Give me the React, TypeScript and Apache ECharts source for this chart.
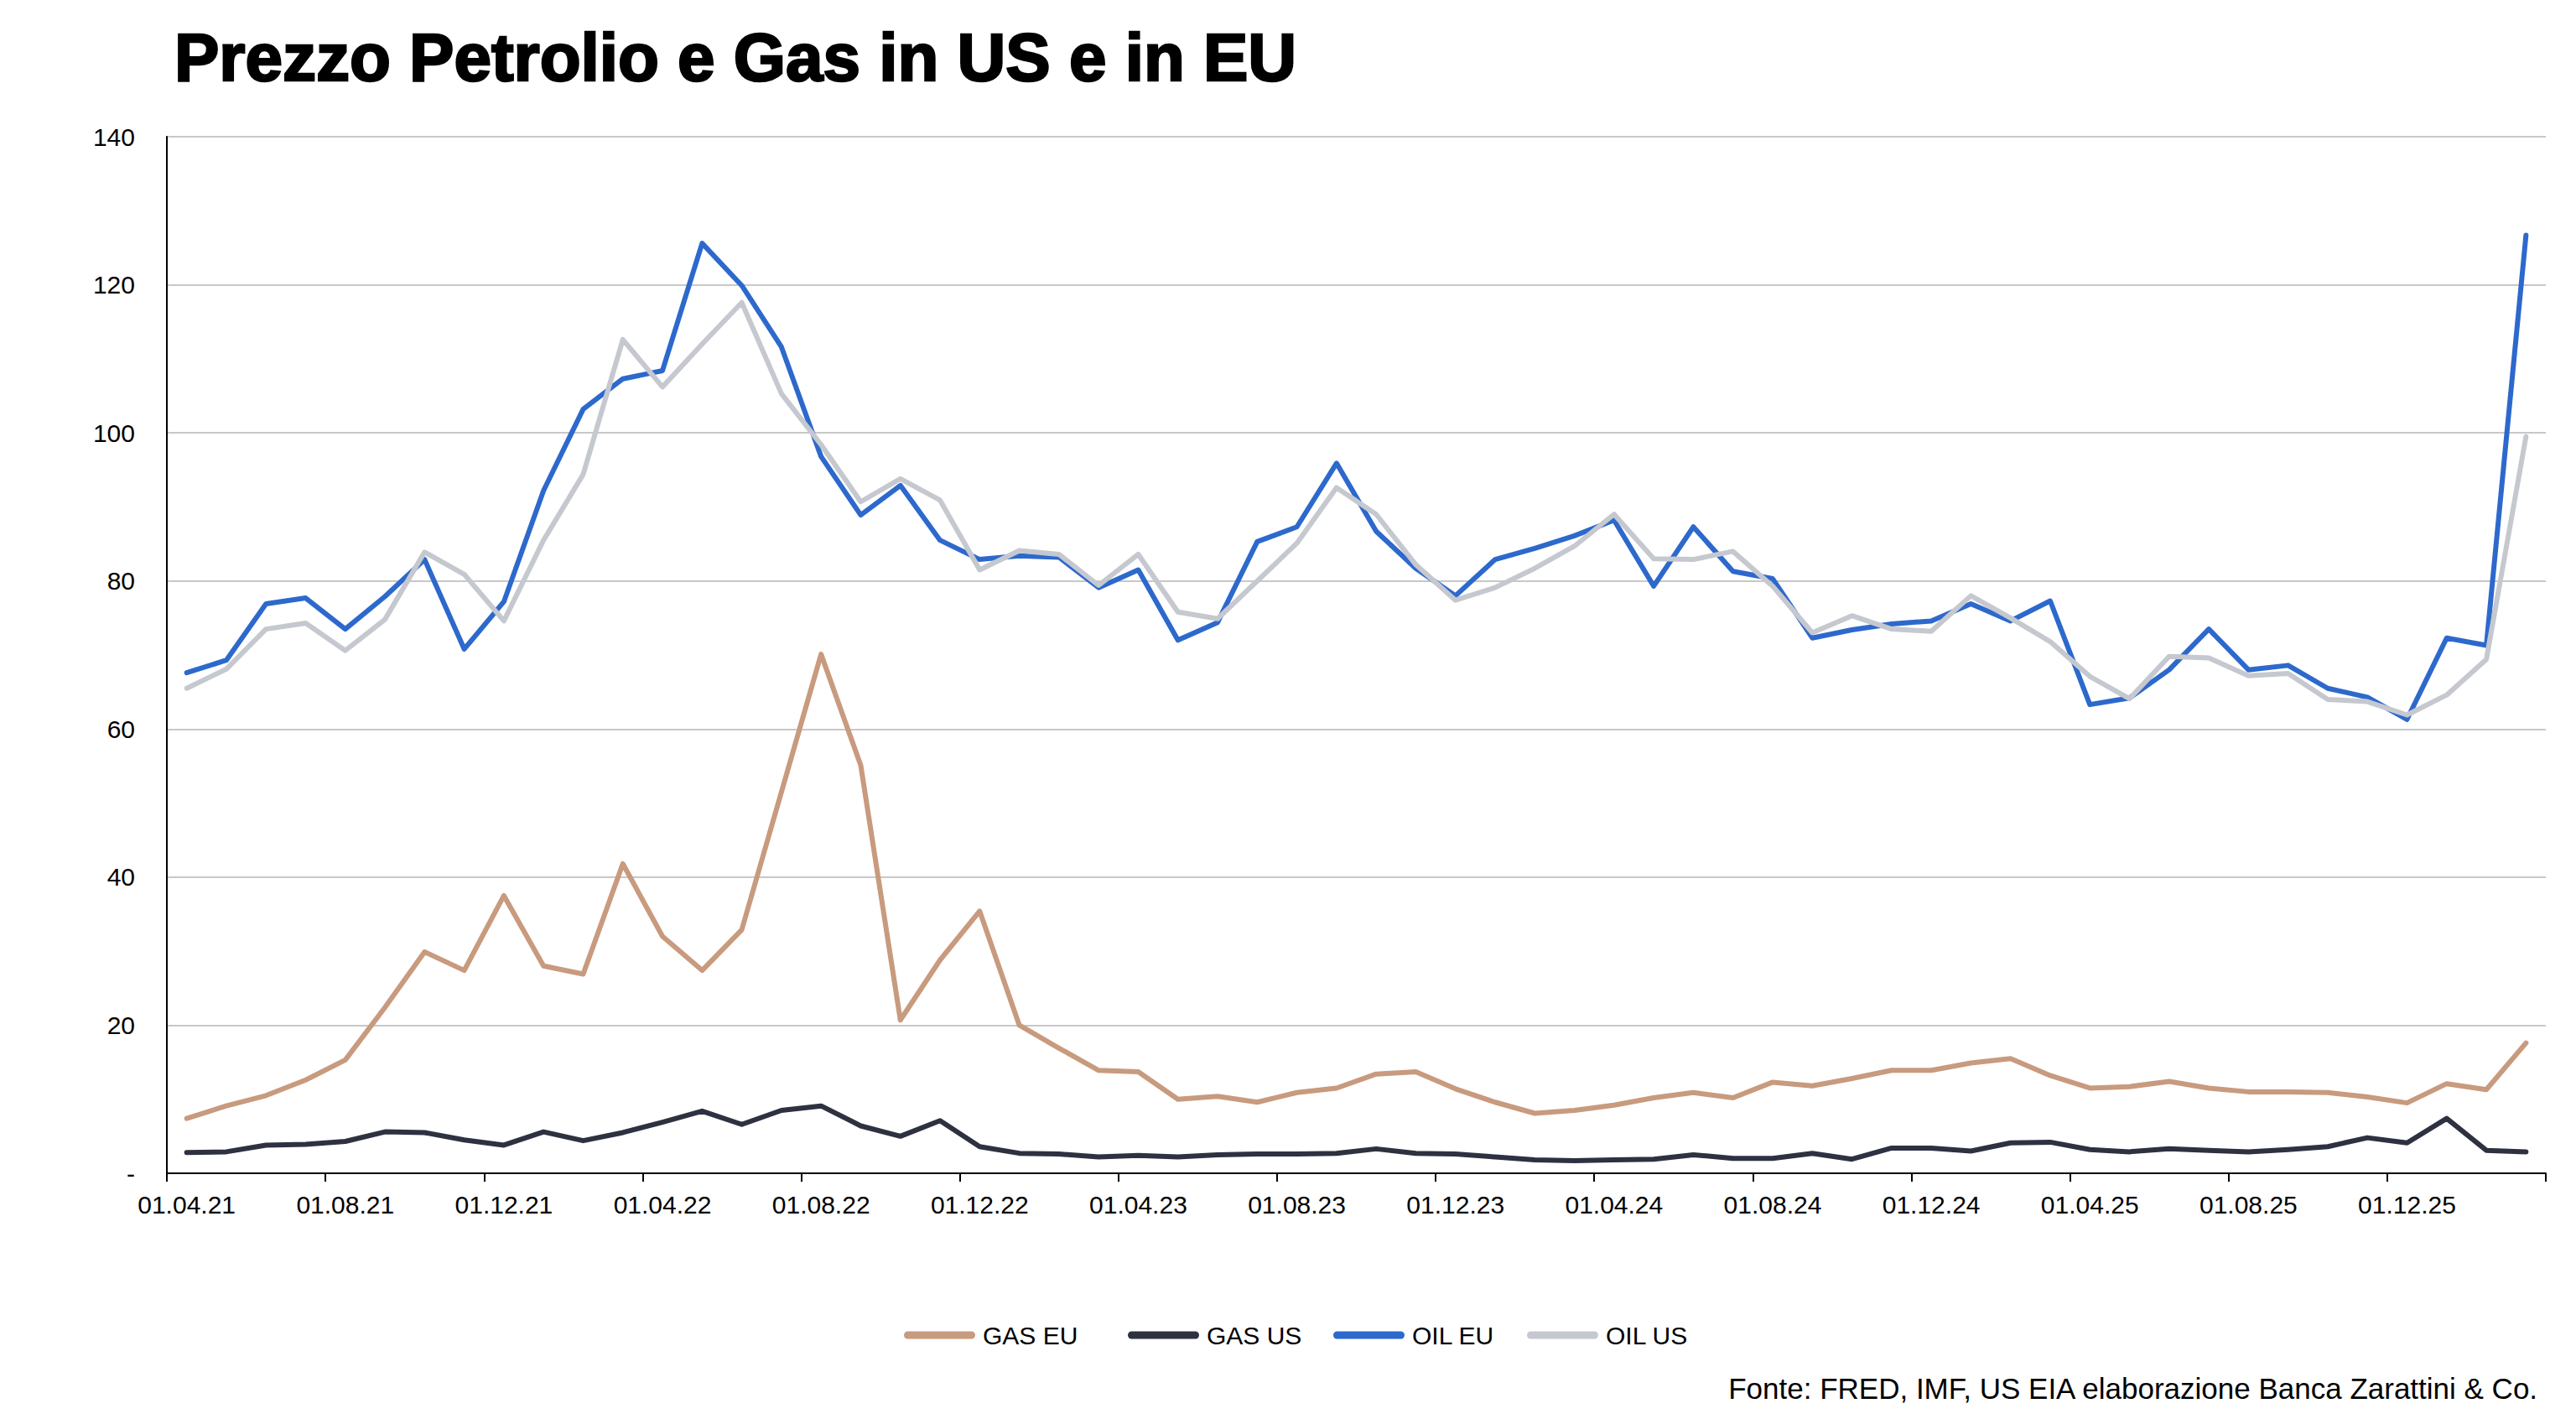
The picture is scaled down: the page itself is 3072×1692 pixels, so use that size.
import React, { useEffect, useRef } from "react";
import * as echarts from "echarts";

const categories = [
  "01.04.21","01.05.21","01.06.21","01.07.21","01.08.21","01.09.21","01.10.21","01.11.21","01.12.21",
  "01.01.22","01.02.22","01.03.22","01.04.22","01.05.22","01.06.22","01.07.22","01.08.22","01.09.22","01.10.22","01.11.22","01.12.22",
  "01.01.23","01.02.23","01.03.23","01.04.23","01.05.23","01.06.23","01.07.23","01.08.23","01.09.23","01.10.23","01.11.23","01.12.23",
  "01.01.24","01.02.24","01.03.24","01.04.24","01.05.24","01.06.24","01.07.24","01.08.24","01.09.24","01.10.24","01.11.24","01.12.24",
  "01.01.25","01.02.25","01.03.25","01.04.25","01.05.25","01.06.25","01.07.25","01.08.25","01.09.25","01.10.25","01.11.25","01.12.25",
  "01.01.26","01.02.26","01.03.26",
];

const gasEU = [
  7.4, 9.1, 10.5, 12.6, 15.3, 22.4, 29.9, 27.4, 37.5, 28.0, 26.9, 41.8, 32.0, 27.4, 32.9,
  51.5, 70.1, 55.1, 20.7, 28.8, 35.4, 20.0, 16.9, 13.9, 13.7, 10.0, 10.4, 9.6, 10.9, 11.5,
  13.4, 13.7, 11.4, 9.6, 8.1, 8.5, 9.2, 10.2, 10.9, 10.2, 12.3, 11.8, 12.8, 13.9, 13.9,
  14.9, 15.5, 13.2, 11.5, 11.7, 12.4, 11.5, 11.0, 11.0, 10.9, 10.3, 9.5, 12.1, 11.3, 17.6,
];

const gasUS = [
  2.8, 2.9, 3.8, 3.9, 4.3, 5.6, 5.5, 4.5, 3.8, 5.6, 4.4, 5.5, 6.9, 8.4, 6.6,
  8.5, 9.1, 6.4, 5.0, 7.1, 3.6, 2.7, 2.6, 2.2, 2.4, 2.2, 2.5, 2.6, 2.6, 2.7,
  3.3, 2.7, 2.6, 2.2, 1.8, 1.7, 1.8, 1.9, 2.5, 2.0, 2.0, 2.7, 1.9, 3.4, 3.4,
  3.0, 4.1, 4.2, 3.2, 2.9, 3.3, 3.1, 2.9, 3.2, 3.6, 4.8, 4.1, 7.4, 3.1, 2.9,
];

const oilEU = [
  67.6, 69.3, 76.9, 77.7, 73.5, 77.9, 82.9, 70.8, 77.2, 92.2, 103.2, 107.3, 108.4, 125.6, 119.9,
  111.6, 96.8, 88.9, 92.9, 85.5, 82.9, 83.4, 83.2, 79.1, 81.5, 72.0, 74.4, 85.3, 87.3, 95.9,
  86.7, 81.7, 78.0, 82.9, 84.4, 86.1, 88.2, 79.3, 87.3, 81.3, 80.3, 72.3, 73.4, 74.2, 74.6,
  76.9, 74.6, 77.3, 63.3, 64.2, 68.0, 73.5, 68.0, 68.6, 65.5, 64.3, 61.3, 72.3, 71.3, 126.7,
];

const oilUS = [
  65.5, 68.1, 73.5, 74.3, 70.6, 74.8, 83.9, 80.9, 74.6, 85.5, 94.4, 112.6, 106.2, 112.0, 117.6,
  105.3, 98.4, 90.7, 93.8, 90.9, 81.5, 84.1, 83.6, 79.4, 83.6, 75.8, 74.9, 80.0, 85.1, 92.6,
  89.0, 82.2, 77.4, 79.1, 81.7, 84.7, 89.0, 83.0, 82.9, 84.0, 79.3, 73.0, 75.3, 73.5, 73.2,
  78.0, 75.0, 71.8, 67.1, 64.1, 69.8, 69.6, 67.2, 67.5, 64.0, 63.7, 61.9, 64.6, 69.4, 99.5,
];

const seriesNames = ["GAS EU", "GAS US", "OIL EU", "OIL US"];
const seriesColors = ["#C89A7E", "#2E3140", "#2D69CC", "#C5C8CF"];
const legendLefts = [1073, 1340, 1585, 1816];

const TITLE = "Prezzo Petrolio e Gas in US e in EU";
const SOURCE = "Fonte: FRED, IMF, US EIA elaborazione Banca Zarattini & Co.";

const FONT = '"Liberation Sans", Arial, Helvetica, sans-serif';

export default function App() {
  const ref = useRef<HTMLDivElement>(null);

  useEffect(() => {
    if (!ref.current) return;
    const chart = echarts.init(ref.current, undefined, { renderer: "svg" });
    const seriesData = [gasEU, gasUS, oilEU, oilUS];
    const iconPath = "path://M4.5,0 H80.5 A4.5,4.5 0 0 1 80.5,9 H4.5 A4.5,4.5 0 0 1 4.5,0 Z";

    chart.setOption({
      animation: false,
      backgroundColor: "#ffffff",
      title: {
        text: TITLE,
        left: 203,
        top: 23,
        textStyle: {
          fontFamily: FONT,
          fontSize: 80,
          fontWeight: "bold",
          color: "#000000",
          textBorderColor: "#000000",
          textBorderWidth: 2.5,
        },
      },
      legend: seriesNames.map((n, i) => ({
        data: [n],
        left: legendLefts[i],
        top: 1572,
        icon: iconPath,
        itemWidth: 85,
        itemHeight: 9,
        textStyle: {
          fontFamily: FONT,
          fontSize: 30,
          color: "#000000",
          padding: [0, 0, 0, 4],
        },
        selectedMode: false,
      })),
      grid: {
        left: 199,
        right: 36,
        top: 163,
        bottom: 293,
        containLabel: false,
      },
      xAxis: {
        type: "category",
        data: categories,
        boundaryGap: true,
        axisLine: { show: true, lineStyle: { color: "#000000", width: 2 } },
        axisTick: {
          show: true,
          interval: 3,
          length: 10,
          lineStyle: { color: "#000000", width: 2 },
        },
        axisLabel: {
          interval: 3,
          margin: 22,
          fontFamily: FONT,
          fontSize: 30,
          color: "#000000",
        },
        splitLine: { show: false },
      },
      yAxis: {
        type: "value",
        min: 0,
        max: 140,
        interval: 20,
        axisLine: { show: true, lineStyle: { color: "#000000", width: 2 } },
        axisTick: { show: false },
        axisLabel: {
          margin: 38,
          fontFamily: FONT,
          fontSize: 30,
          color: "#000000",
          formatter: (v: number) => (v === 0 ? "-" : String(v)),
        },
        splitLine: { show: true, lineStyle: { color: "#C8C8C8", width: 2 } },
      },
      series: seriesNames.map((n, i) => ({
        name: n,
        type: "line",
        data: seriesData[i],
        showSymbol: false,
        symbol: "none",
        lineStyle: { color: seriesColors[i], width: 6, join: "round", cap: "round" },
        itemStyle: { color: seriesColors[i] },
        emphasis: { disabled: true },
      })),
      graphic: [
        {
          type: "text",
          right: 44,
          top: 1638,
          style: {
            text: SOURCE,
            font: `35px ${FONT}`,
            fill: "#000000",
          },
        },
      ],
    });

    return () => {
      chart.dispose();
    };
  }, []);

  return (
    <div
      ref={ref}
      style={{ position: "fixed", left: 0, top: 0, width: 3072, height: 1692, background: "#fff" }}
    />
  );
}
